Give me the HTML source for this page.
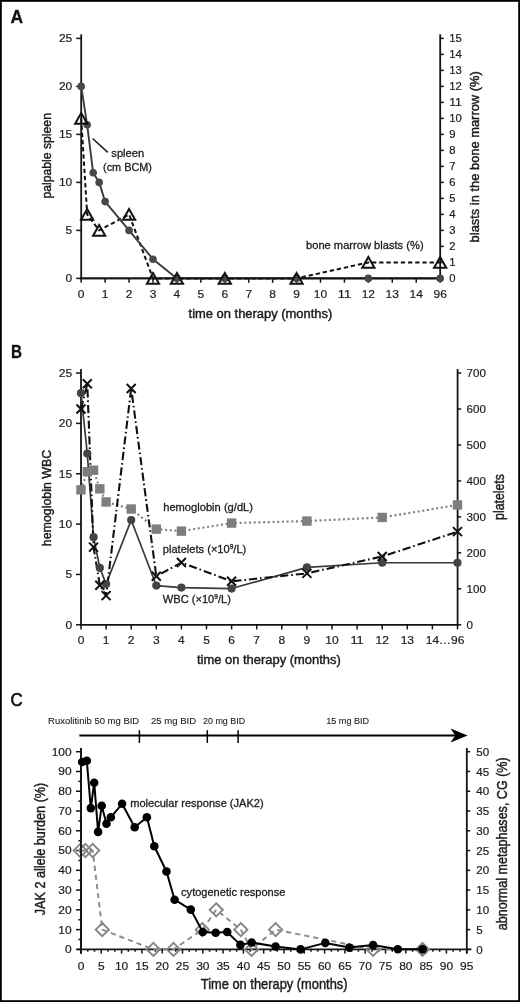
<!DOCTYPE html><html><head><meta charset="utf-8"><style>html,body{margin:0;padding:0;background:#fff;}svg{display:block;filter:grayscale(1);}text{font-family:"Liberation Sans", sans-serif;stroke:#1c1c1c;stroke-width:0.3px;}</style></head><body>
<svg width="520" height="1002" viewBox="0 0 520 1002">
<rect x="0" y="0" width="520" height="1002" fill="#fff"/>
<rect x="0.9" y="0.9" width="518.2" height="1000.2" fill="none" stroke="#000" stroke-width="1.8"/>
<text x="10.6" y="23.1" font-size="17.5" text-anchor="start" font-weight="bold" fill="#111">A</text>
<line x1="81.2" y1="34.3" x2="81.2" y2="279.3" stroke="#141414" stroke-width="1.8"/>
<line x1="440.2" y1="34.3" x2="440.2" y2="279.3" stroke="#141414" stroke-width="1.8"/>
<line x1="80.3" y1="278.4" x2="441.1" y2="278.4" stroke="#141414" stroke-width="1.8"/>
<line x1="76.2" y1="278.4" x2="81.2" y2="278.4" stroke="#141414" stroke-width="1.5"/>
<text x="72.3" y="282.2" font-size="11.7" text-anchor="end" font-weight="normal" fill="#1c1c1c" textLength="6.67" lengthAdjust="spacingAndGlyphs" style="stroke-width:0.2px">0</text>
<line x1="76.2" y1="230.4" x2="81.2" y2="230.4" stroke="#141414" stroke-width="1.5"/>
<text x="72.3" y="234.2" font-size="11.7" text-anchor="end" font-weight="normal" fill="#1c1c1c" textLength="6.67" lengthAdjust="spacingAndGlyphs" style="stroke-width:0.2px">5</text>
<line x1="76.2" y1="182.4" x2="81.2" y2="182.4" stroke="#141414" stroke-width="1.5"/>
<text x="72.3" y="186.2" font-size="11.7" text-anchor="end" font-weight="normal" fill="#1c1c1c" textLength="13.35" lengthAdjust="spacingAndGlyphs" style="stroke-width:0.2px">10</text>
<line x1="76.2" y1="134.4" x2="81.2" y2="134.4" stroke="#141414" stroke-width="1.5"/>
<text x="72.3" y="138.2" font-size="11.7" text-anchor="end" font-weight="normal" fill="#1c1c1c" textLength="13.35" lengthAdjust="spacingAndGlyphs" style="stroke-width:0.2px">15</text>
<line x1="76.2" y1="86.4" x2="81.2" y2="86.4" stroke="#141414" stroke-width="1.5"/>
<text x="72.3" y="90.2" font-size="11.7" text-anchor="end" font-weight="normal" fill="#1c1c1c" textLength="13.35" lengthAdjust="spacingAndGlyphs" style="stroke-width:0.2px">20</text>
<line x1="76.2" y1="38.4" x2="81.2" y2="38.4" stroke="#141414" stroke-width="1.5"/>
<text x="72.3" y="42.2" font-size="11.7" text-anchor="end" font-weight="normal" fill="#1c1c1c" textLength="13.35" lengthAdjust="spacingAndGlyphs" style="stroke-width:0.2px">25</text>
<line x1="440.2" y1="278.4" x2="443.8" y2="278.4" stroke="#141414" stroke-width="1.5"/>
<text x="449.2" y="282.4" font-size="11.02" text-anchor="start" font-weight="normal" fill="#1c1c1c" textLength="6.28" lengthAdjust="spacingAndGlyphs" style="stroke-width:0.2px">0</text>
<line x1="440.2" y1="262.4" x2="443.8" y2="262.4" stroke="#141414" stroke-width="1.5"/>
<text x="449.2" y="266.4" font-size="11.02" text-anchor="start" font-weight="normal" fill="#1c1c1c" textLength="6.28" lengthAdjust="spacingAndGlyphs" style="stroke-width:0.2px">1</text>
<line x1="440.2" y1="246.4" x2="443.8" y2="246.4" stroke="#141414" stroke-width="1.5"/>
<text x="449.2" y="250.4" font-size="11.02" text-anchor="start" font-weight="normal" fill="#1c1c1c" textLength="6.28" lengthAdjust="spacingAndGlyphs" style="stroke-width:0.2px">2</text>
<line x1="440.2" y1="230.4" x2="443.8" y2="230.4" stroke="#141414" stroke-width="1.5"/>
<text x="449.2" y="234.4" font-size="11.02" text-anchor="start" font-weight="normal" fill="#1c1c1c" textLength="6.28" lengthAdjust="spacingAndGlyphs" style="stroke-width:0.2px">3</text>
<line x1="440.2" y1="214.4" x2="443.8" y2="214.4" stroke="#141414" stroke-width="1.5"/>
<text x="449.2" y="218.4" font-size="11.02" text-anchor="start" font-weight="normal" fill="#1c1c1c" textLength="6.28" lengthAdjust="spacingAndGlyphs" style="stroke-width:0.2px">4</text>
<line x1="440.2" y1="198.4" x2="443.8" y2="198.4" stroke="#141414" stroke-width="1.5"/>
<text x="449.2" y="202.4" font-size="11.02" text-anchor="start" font-weight="normal" fill="#1c1c1c" textLength="6.28" lengthAdjust="spacingAndGlyphs" style="stroke-width:0.2px">5</text>
<line x1="440.2" y1="182.4" x2="443.8" y2="182.4" stroke="#141414" stroke-width="1.5"/>
<text x="449.2" y="186.4" font-size="11.02" text-anchor="start" font-weight="normal" fill="#1c1c1c" textLength="6.28" lengthAdjust="spacingAndGlyphs" style="stroke-width:0.2px">6</text>
<line x1="440.2" y1="166.4" x2="443.8" y2="166.4" stroke="#141414" stroke-width="1.5"/>
<text x="449.2" y="170.4" font-size="11.02" text-anchor="start" font-weight="normal" fill="#1c1c1c" textLength="6.28" lengthAdjust="spacingAndGlyphs" style="stroke-width:0.2px">7</text>
<line x1="440.2" y1="150.4" x2="443.8" y2="150.4" stroke="#141414" stroke-width="1.5"/>
<text x="449.2" y="154.4" font-size="11.02" text-anchor="start" font-weight="normal" fill="#1c1c1c" textLength="6.28" lengthAdjust="spacingAndGlyphs" style="stroke-width:0.2px">8</text>
<line x1="440.2" y1="134.4" x2="443.8" y2="134.4" stroke="#141414" stroke-width="1.5"/>
<text x="449.2" y="138.4" font-size="11.02" text-anchor="start" font-weight="normal" fill="#1c1c1c" textLength="6.28" lengthAdjust="spacingAndGlyphs" style="stroke-width:0.2px">9</text>
<line x1="440.2" y1="118.4" x2="443.8" y2="118.4" stroke="#141414" stroke-width="1.5"/>
<text x="449.2" y="122.4" font-size="11.02" text-anchor="start" font-weight="normal" fill="#1c1c1c" textLength="12.57" lengthAdjust="spacingAndGlyphs" style="stroke-width:0.2px">10</text>
<line x1="440.2" y1="102.4" x2="443.8" y2="102.4" stroke="#141414" stroke-width="1.5"/>
<text x="449.2" y="106.4" font-size="11.02" text-anchor="start" font-weight="normal" fill="#1c1c1c" textLength="12.57" lengthAdjust="spacingAndGlyphs" style="stroke-width:0.2px">11</text>
<line x1="440.2" y1="86.4" x2="443.8" y2="86.4" stroke="#141414" stroke-width="1.5"/>
<text x="449.2" y="90.4" font-size="11.02" text-anchor="start" font-weight="normal" fill="#1c1c1c" textLength="12.57" lengthAdjust="spacingAndGlyphs" style="stroke-width:0.2px">12</text>
<line x1="440.2" y1="70.4" x2="443.8" y2="70.4" stroke="#141414" stroke-width="1.5"/>
<text x="449.2" y="74.4" font-size="11.02" text-anchor="start" font-weight="normal" fill="#1c1c1c" textLength="12.57" lengthAdjust="spacingAndGlyphs" style="stroke-width:0.2px">13</text>
<line x1="440.2" y1="54.4" x2="443.8" y2="54.4" stroke="#141414" stroke-width="1.5"/>
<text x="449.2" y="58.4" font-size="11.02" text-anchor="start" font-weight="normal" fill="#1c1c1c" textLength="12.57" lengthAdjust="spacingAndGlyphs" style="stroke-width:0.2px">14</text>
<line x1="440.2" y1="38.4" x2="443.8" y2="38.4" stroke="#141414" stroke-width="1.5"/>
<text x="449.2" y="42.4" font-size="11.02" text-anchor="start" font-weight="normal" fill="#1c1c1c" textLength="12.57" lengthAdjust="spacingAndGlyphs" style="stroke-width:0.2px">15</text>
<line x1="81.2" y1="278.4" x2="81.2" y2="282.8" stroke="#141414" stroke-width="1.5"/>
<text x="81.2" y="297.6" font-size="11.7" text-anchor="middle" font-weight="normal" fill="#1c1c1c" textLength="6.67" lengthAdjust="spacingAndGlyphs" style="stroke-width:0.2px">0</text>
<line x1="105.13" y1="278.4" x2="105.13" y2="282.8" stroke="#141414" stroke-width="1.5"/>
<text x="105.13" y="297.6" font-size="11.7" text-anchor="middle" font-weight="normal" fill="#1c1c1c" textLength="6.67" lengthAdjust="spacingAndGlyphs" style="stroke-width:0.2px">1</text>
<line x1="129.06" y1="278.4" x2="129.06" y2="282.8" stroke="#141414" stroke-width="1.5"/>
<text x="129.06" y="297.6" font-size="11.7" text-anchor="middle" font-weight="normal" fill="#1c1c1c" textLength="6.67" lengthAdjust="spacingAndGlyphs" style="stroke-width:0.2px">2</text>
<line x1="152.99" y1="278.4" x2="152.99" y2="282.8" stroke="#141414" stroke-width="1.5"/>
<text x="152.99" y="297.6" font-size="11.7" text-anchor="middle" font-weight="normal" fill="#1c1c1c" textLength="6.67" lengthAdjust="spacingAndGlyphs" style="stroke-width:0.2px">3</text>
<line x1="176.92" y1="278.4" x2="176.92" y2="282.8" stroke="#141414" stroke-width="1.5"/>
<text x="176.92" y="297.6" font-size="11.7" text-anchor="middle" font-weight="normal" fill="#1c1c1c" textLength="6.67" lengthAdjust="spacingAndGlyphs" style="stroke-width:0.2px">4</text>
<line x1="200.85" y1="278.4" x2="200.85" y2="282.8" stroke="#141414" stroke-width="1.5"/>
<text x="200.85" y="297.6" font-size="11.7" text-anchor="middle" font-weight="normal" fill="#1c1c1c" textLength="6.67" lengthAdjust="spacingAndGlyphs" style="stroke-width:0.2px">5</text>
<line x1="224.78" y1="278.4" x2="224.78" y2="282.8" stroke="#141414" stroke-width="1.5"/>
<text x="224.78" y="297.6" font-size="11.7" text-anchor="middle" font-weight="normal" fill="#1c1c1c" textLength="6.67" lengthAdjust="spacingAndGlyphs" style="stroke-width:0.2px">6</text>
<line x1="248.71" y1="278.4" x2="248.71" y2="282.8" stroke="#141414" stroke-width="1.5"/>
<text x="248.71" y="297.6" font-size="11.7" text-anchor="middle" font-weight="normal" fill="#1c1c1c" textLength="6.67" lengthAdjust="spacingAndGlyphs" style="stroke-width:0.2px">7</text>
<line x1="272.64" y1="278.4" x2="272.64" y2="282.8" stroke="#141414" stroke-width="1.5"/>
<text x="272.64" y="297.6" font-size="11.7" text-anchor="middle" font-weight="normal" fill="#1c1c1c" textLength="6.67" lengthAdjust="spacingAndGlyphs" style="stroke-width:0.2px">8</text>
<line x1="296.57" y1="278.4" x2="296.57" y2="282.8" stroke="#141414" stroke-width="1.5"/>
<text x="296.57" y="297.6" font-size="11.7" text-anchor="middle" font-weight="normal" fill="#1c1c1c" textLength="6.67" lengthAdjust="spacingAndGlyphs" style="stroke-width:0.2px">9</text>
<line x1="320.5" y1="278.4" x2="320.5" y2="282.8" stroke="#141414" stroke-width="1.5"/>
<text x="320.5" y="297.6" font-size="11.7" text-anchor="middle" font-weight="normal" fill="#1c1c1c" textLength="13.35" lengthAdjust="spacingAndGlyphs" style="stroke-width:0.2px">10</text>
<line x1="344.43" y1="278.4" x2="344.43" y2="282.8" stroke="#141414" stroke-width="1.5"/>
<text x="344.43" y="297.6" font-size="11.7" text-anchor="middle" font-weight="normal" fill="#1c1c1c" textLength="13.35" lengthAdjust="spacingAndGlyphs" style="stroke-width:0.2px">11</text>
<line x1="368.36" y1="278.4" x2="368.36" y2="282.8" stroke="#141414" stroke-width="1.5"/>
<text x="368.36" y="297.6" font-size="11.7" text-anchor="middle" font-weight="normal" fill="#1c1c1c" textLength="13.35" lengthAdjust="spacingAndGlyphs" style="stroke-width:0.2px">12</text>
<line x1="392.29" y1="278.4" x2="392.29" y2="282.8" stroke="#141414" stroke-width="1.5"/>
<text x="392.29" y="297.6" font-size="11.7" text-anchor="middle" font-weight="normal" fill="#1c1c1c" textLength="13.35" lengthAdjust="spacingAndGlyphs" style="stroke-width:0.2px">13</text>
<line x1="416.22" y1="278.4" x2="416.22" y2="282.8" stroke="#141414" stroke-width="1.5"/>
<text x="416.22" y="297.6" font-size="11.7" text-anchor="middle" font-weight="normal" fill="#1c1c1c" textLength="13.35" lengthAdjust="spacingAndGlyphs" style="stroke-width:0.2px">14</text>
<line x1="440.15" y1="278.4" x2="440.15" y2="282.8" stroke="#141414" stroke-width="1.5"/>
<text x="440.15" y="297.6" font-size="11.7" text-anchor="middle" font-weight="normal" fill="#1c1c1c" textLength="13.35" lengthAdjust="spacingAndGlyphs" style="stroke-width:0.2px">96</text>
<text transform="translate(50.9,155.8) rotate(-90)" x="0" y="0" font-size="13.6" text-anchor="middle" fill="#1c1c1c" style="stroke-width:0.45px" textLength="85.5" lengthAdjust="spacingAndGlyphs">palpable spleen</text>
<text transform="translate(479.1,156.8) rotate(-90)" x="0" y="0" font-size="13.3" text-anchor="middle" fill="#1c1c1c" style="stroke-width:0.45px" textLength="171.2" lengthAdjust="spacingAndGlyphs">blasts in the bone marrow (%)</text>
<text x="188.6" y="317.6" font-size="13.5" text-anchor="start" font-weight="normal" fill="#1c1c1c" textLength="143.7" lengthAdjust="spacingAndGlyphs" style="stroke-width:0.45px">time on therapy (months)</text>
<polyline points="81.2,118.4 87.18,214.4 99.15,230.4 129.06,214.4 152.99,278.4 176.92,278.4 224.78,278.4 296.57,278.4 368.36,262.4 440.15,262.4" fill="none" stroke="#111" stroke-width="2" stroke-linejoin="round" stroke-dasharray="4.3 2.9"/>
<polyline points="81.2,86.4 87.18,124.8 93.17,172.8 99.15,182.4 105.13,201.6 129.06,230.4 152.99,259.2 176.92,278.4 224.78,278.4 296.57,278.4 368.36,278.4 440.15,278.4" fill="none" stroke="#3c3c3c" stroke-width="1.9" stroke-linejoin="round"/>
<line x1="80.3" y1="278.4" x2="441.1" y2="278.4" stroke="#141414" stroke-width="1.8"/>
<circle cx="81.2" cy="86.4" r="3.8" fill="#484848"/>
<circle cx="87.18" cy="124.8" r="3.8" fill="#484848"/>
<circle cx="93.17" cy="172.8" r="3.8" fill="#484848"/>
<circle cx="99.15" cy="182.4" r="3.8" fill="#484848"/>
<circle cx="105.13" cy="201.6" r="3.8" fill="#484848"/>
<circle cx="129.06" cy="230.4" r="3.8" fill="#484848"/>
<circle cx="152.99" cy="259.2" r="3.8" fill="#484848"/>
<circle cx="176.92" cy="278.4" r="3.8" fill="#484848"/>
<circle cx="224.78" cy="278.4" r="3.8" fill="#484848"/>
<circle cx="296.57" cy="278.4" r="3.8" fill="#484848"/>
<circle cx="368.36" cy="278.4" r="3.8" fill="#484848"/>
<circle cx="440.15" cy="278.4" r="3.8" fill="#484848"/>
<polygon points="81.2,113 87.3,123.8 75.1,123.8" fill="none" stroke="#111" stroke-width="2" stroke-linejoin="miter"/>
<polygon points="87.18,209 93.28,219.8 81.08,219.8" fill="none" stroke="#111" stroke-width="2" stroke-linejoin="miter"/>
<polygon points="99.15,225 105.25,235.8 93.05,235.8" fill="none" stroke="#111" stroke-width="2" stroke-linejoin="miter"/>
<polygon points="129.06,209 135.16,219.8 122.96,219.8" fill="none" stroke="#111" stroke-width="2" stroke-linejoin="miter"/>
<polygon points="152.99,273 159.09,283.8 146.89,283.8" fill="none" stroke="#111" stroke-width="2" stroke-linejoin="miter"/>
<polygon points="176.92,273 183.02,283.8 170.82,283.8" fill="none" stroke="#111" stroke-width="2" stroke-linejoin="miter"/>
<polygon points="224.78,273 230.88,283.8 218.68,283.8" fill="none" stroke="#111" stroke-width="2" stroke-linejoin="miter"/>
<polygon points="296.57,273 302.67,283.8 290.47,283.8" fill="none" stroke="#111" stroke-width="2" stroke-linejoin="miter"/>
<polygon points="368.36,257 374.46,267.8 362.26,267.8" fill="none" stroke="#111" stroke-width="2" stroke-linejoin="miter"/>
<polygon points="440.15,257 446.25,267.8 434.05,267.8" fill="none" stroke="#111" stroke-width="2" stroke-linejoin="miter"/>
<line x1="92.6" y1="138.5" x2="107.8" y2="152.4" stroke="#222" stroke-width="1.6"/>
<text x="111.3" y="156.5" font-size="11.1" text-anchor="start" font-weight="normal" fill="#1c1c1c" textLength="33" lengthAdjust="spacingAndGlyphs">spleen</text>
<text x="103" y="170.8" font-size="11.1" text-anchor="start" font-weight="normal" fill="#1c1c1c" textLength="49" lengthAdjust="spacingAndGlyphs">(cm BCM)</text>
<text x="306" y="249.4" font-size="11.1" text-anchor="start" font-weight="normal" fill="#1c1c1c" textLength="117.6" lengthAdjust="spacingAndGlyphs">bone marrow blasts (%)</text>
<text x="11" y="358" font-size="17.5" text-anchor="start" font-weight="bold" fill="#111" textLength="11" lengthAdjust="spacingAndGlyphs">B</text>
<line x1="81" y1="369" x2="81" y2="625.7" stroke="#141414" stroke-width="1.8"/>
<line x1="457.6" y1="369" x2="457.6" y2="625.7" stroke="#141414" stroke-width="1.8"/>
<line x1="80.1" y1="624.8" x2="458.5" y2="624.8" stroke="#141414" stroke-width="1.8"/>
<line x1="76" y1="624.8" x2="81" y2="624.8" stroke="#141414" stroke-width="1.5"/>
<text x="72.2" y="628.6" font-size="11.7" text-anchor="end" font-weight="normal" fill="#1c1c1c" textLength="6.67" lengthAdjust="spacingAndGlyphs" style="stroke-width:0.2px">0</text>
<line x1="76" y1="574.45" x2="81" y2="574.45" stroke="#141414" stroke-width="1.5"/>
<text x="72.2" y="578.25" font-size="11.7" text-anchor="end" font-weight="normal" fill="#1c1c1c" textLength="6.67" lengthAdjust="spacingAndGlyphs" style="stroke-width:0.2px">5</text>
<line x1="76" y1="524.1" x2="81" y2="524.1" stroke="#141414" stroke-width="1.5"/>
<text x="72.2" y="527.9" font-size="11.7" text-anchor="end" font-weight="normal" fill="#1c1c1c" textLength="13.35" lengthAdjust="spacingAndGlyphs" style="stroke-width:0.2px">10</text>
<line x1="76" y1="473.75" x2="81" y2="473.75" stroke="#141414" stroke-width="1.5"/>
<text x="72.2" y="477.55" font-size="11.7" text-anchor="end" font-weight="normal" fill="#1c1c1c" textLength="13.35" lengthAdjust="spacingAndGlyphs" style="stroke-width:0.2px">15</text>
<line x1="76" y1="423.4" x2="81" y2="423.4" stroke="#141414" stroke-width="1.5"/>
<text x="72.2" y="427.2" font-size="11.7" text-anchor="end" font-weight="normal" fill="#1c1c1c" textLength="13.35" lengthAdjust="spacingAndGlyphs" style="stroke-width:0.2px">20</text>
<line x1="76" y1="373.05" x2="81" y2="373.05" stroke="#141414" stroke-width="1.5"/>
<text x="72.2" y="376.85" font-size="11.7" text-anchor="end" font-weight="normal" fill="#1c1c1c" textLength="13.35" lengthAdjust="spacingAndGlyphs" style="stroke-width:0.2px">25</text>
<line x1="457.6" y1="624.8" x2="461.2" y2="624.8" stroke="#141414" stroke-width="1.5"/>
<text x="466.6" y="628.9" font-size="11.31" text-anchor="start" font-weight="normal" fill="#1c1c1c" textLength="6.45" lengthAdjust="spacingAndGlyphs" style="stroke-width:0.2px">0</text>
<line x1="457.6" y1="588.83" x2="461.2" y2="588.83" stroke="#141414" stroke-width="1.5"/>
<text x="466.6" y="592.93" font-size="11.31" text-anchor="start" font-weight="normal" fill="#1c1c1c" textLength="19.35" lengthAdjust="spacingAndGlyphs" style="stroke-width:0.2px">100</text>
<line x1="457.6" y1="552.86" x2="461.2" y2="552.86" stroke="#141414" stroke-width="1.5"/>
<text x="466.6" y="556.96" font-size="11.31" text-anchor="start" font-weight="normal" fill="#1c1c1c" textLength="19.35" lengthAdjust="spacingAndGlyphs" style="stroke-width:0.2px">200</text>
<line x1="457.6" y1="516.89" x2="461.2" y2="516.89" stroke="#141414" stroke-width="1.5"/>
<text x="466.6" y="520.99" font-size="11.31" text-anchor="start" font-weight="normal" fill="#1c1c1c" textLength="19.35" lengthAdjust="spacingAndGlyphs" style="stroke-width:0.2px">300</text>
<line x1="457.6" y1="480.92" x2="461.2" y2="480.92" stroke="#141414" stroke-width="1.5"/>
<text x="466.6" y="485.02" font-size="11.31" text-anchor="start" font-weight="normal" fill="#1c1c1c" textLength="19.35" lengthAdjust="spacingAndGlyphs" style="stroke-width:0.2px">400</text>
<line x1="457.6" y1="444.95" x2="461.2" y2="444.95" stroke="#141414" stroke-width="1.5"/>
<text x="466.6" y="449.05" font-size="11.31" text-anchor="start" font-weight="normal" fill="#1c1c1c" textLength="19.35" lengthAdjust="spacingAndGlyphs" style="stroke-width:0.2px">500</text>
<line x1="457.6" y1="408.98" x2="461.2" y2="408.98" stroke="#141414" stroke-width="1.5"/>
<text x="466.6" y="413.08" font-size="11.31" text-anchor="start" font-weight="normal" fill="#1c1c1c" textLength="19.35" lengthAdjust="spacingAndGlyphs" style="stroke-width:0.2px">600</text>
<line x1="457.6" y1="373.01" x2="461.2" y2="373.01" stroke="#141414" stroke-width="1.5"/>
<text x="466.6" y="377.11" font-size="11.31" text-anchor="start" font-weight="normal" fill="#1c1c1c" textLength="19.35" lengthAdjust="spacingAndGlyphs" style="stroke-width:0.2px">700</text>
<line x1="81" y1="624.8" x2="81" y2="629.4" stroke="#141414" stroke-width="1.5"/>
<text x="81" y="644" font-size="11.7" text-anchor="middle" font-weight="normal" fill="#1c1c1c" textLength="6.67" lengthAdjust="spacingAndGlyphs" style="stroke-width:0.2px">0</text>
<line x1="106.1" y1="624.8" x2="106.1" y2="629.4" stroke="#141414" stroke-width="1.5"/>
<text x="106.1" y="644" font-size="11.7" text-anchor="middle" font-weight="normal" fill="#1c1c1c" textLength="6.67" lengthAdjust="spacingAndGlyphs" style="stroke-width:0.2px">1</text>
<line x1="131.2" y1="624.8" x2="131.2" y2="629.4" stroke="#141414" stroke-width="1.5"/>
<text x="131.2" y="644" font-size="11.7" text-anchor="middle" font-weight="normal" fill="#1c1c1c" textLength="6.67" lengthAdjust="spacingAndGlyphs" style="stroke-width:0.2px">2</text>
<line x1="156.3" y1="624.8" x2="156.3" y2="629.4" stroke="#141414" stroke-width="1.5"/>
<text x="156.3" y="644" font-size="11.7" text-anchor="middle" font-weight="normal" fill="#1c1c1c" textLength="6.67" lengthAdjust="spacingAndGlyphs" style="stroke-width:0.2px">3</text>
<line x1="181.4" y1="624.8" x2="181.4" y2="629.4" stroke="#141414" stroke-width="1.5"/>
<text x="181.4" y="644" font-size="11.7" text-anchor="middle" font-weight="normal" fill="#1c1c1c" textLength="6.67" lengthAdjust="spacingAndGlyphs" style="stroke-width:0.2px">4</text>
<line x1="206.5" y1="624.8" x2="206.5" y2="629.4" stroke="#141414" stroke-width="1.5"/>
<text x="206.5" y="644" font-size="11.7" text-anchor="middle" font-weight="normal" fill="#1c1c1c" textLength="6.67" lengthAdjust="spacingAndGlyphs" style="stroke-width:0.2px">5</text>
<line x1="231.6" y1="624.8" x2="231.6" y2="629.4" stroke="#141414" stroke-width="1.5"/>
<text x="231.6" y="644" font-size="11.7" text-anchor="middle" font-weight="normal" fill="#1c1c1c" textLength="6.67" lengthAdjust="spacingAndGlyphs" style="stroke-width:0.2px">6</text>
<line x1="256.7" y1="624.8" x2="256.7" y2="629.4" stroke="#141414" stroke-width="1.5"/>
<text x="256.7" y="644" font-size="11.7" text-anchor="middle" font-weight="normal" fill="#1c1c1c" textLength="6.67" lengthAdjust="spacingAndGlyphs" style="stroke-width:0.2px">7</text>
<line x1="281.8" y1="624.8" x2="281.8" y2="629.4" stroke="#141414" stroke-width="1.5"/>
<text x="281.8" y="644" font-size="11.7" text-anchor="middle" font-weight="normal" fill="#1c1c1c" textLength="6.67" lengthAdjust="spacingAndGlyphs" style="stroke-width:0.2px">8</text>
<line x1="306.9" y1="624.8" x2="306.9" y2="629.4" stroke="#141414" stroke-width="1.5"/>
<text x="306.9" y="644" font-size="11.7" text-anchor="middle" font-weight="normal" fill="#1c1c1c" textLength="6.67" lengthAdjust="spacingAndGlyphs" style="stroke-width:0.2px">9</text>
<line x1="332" y1="624.8" x2="332" y2="629.4" stroke="#141414" stroke-width="1.5"/>
<text x="332" y="644" font-size="11.7" text-anchor="middle" font-weight="normal" fill="#1c1c1c" textLength="13.35" lengthAdjust="spacingAndGlyphs" style="stroke-width:0.2px">10</text>
<line x1="357.1" y1="624.8" x2="357.1" y2="629.4" stroke="#141414" stroke-width="1.5"/>
<text x="357.1" y="644" font-size="11.7" text-anchor="middle" font-weight="normal" fill="#1c1c1c" textLength="13.35" lengthAdjust="spacingAndGlyphs" style="stroke-width:0.2px">11</text>
<line x1="382.2" y1="624.8" x2="382.2" y2="629.4" stroke="#141414" stroke-width="1.5"/>
<text x="382.2" y="644" font-size="11.7" text-anchor="middle" font-weight="normal" fill="#1c1c1c" textLength="13.35" lengthAdjust="spacingAndGlyphs" style="stroke-width:0.2px">12</text>
<line x1="407.3" y1="624.8" x2="407.3" y2="629.4" stroke="#141414" stroke-width="1.5"/>
<text x="407.3" y="644" font-size="11.7" text-anchor="middle" font-weight="normal" fill="#1c1c1c" textLength="13.35" lengthAdjust="spacingAndGlyphs" style="stroke-width:0.2px">13</text>
<line x1="432.4" y1="624.8" x2="432.4" y2="629.4" stroke="#141414" stroke-width="1.5"/>
<line x1="457.5" y1="624.8" x2="457.5" y2="629.4" stroke="#141414" stroke-width="1.5"/>
<text x="425.8" y="644" font-size="11.7" text-anchor="start" font-weight="normal" fill="#1c1c1c" textLength="38.6" lengthAdjust="spacingAndGlyphs" style="stroke-width:0.2px">14…96</text>
<text transform="translate(51.3,498) rotate(-90)" x="0" y="0" font-size="13.3" text-anchor="middle" fill="#1c1c1c" style="stroke-width:0.45px" textLength="96.4" lengthAdjust="spacingAndGlyphs">hemoglobin WBC</text>
<text transform="translate(504,497) rotate(-90)" x="0" y="0" font-size="14.2" text-anchor="middle" fill="#1c1c1c" style="stroke-width:0.45px" textLength="45.8" lengthAdjust="spacingAndGlyphs">platelets</text>
<text x="197" y="664.1" font-size="13.5" text-anchor="start" font-weight="normal" fill="#1c1c1c" textLength="143.8" lengthAdjust="spacingAndGlyphs" style="stroke-width:0.45px">time on therapy (months)</text>
<polyline points="81,489.86 87.28,471.74 93.55,470.23 99.83,488.85 106.1,501.95 131.2,508.99 156.3,529.13 181.4,531.15 231.6,523.09 306.9,521.08 382.2,517.45 457.5,504.97" fill="none" stroke="#808080" stroke-width="2.2" stroke-linejoin="round" stroke-dasharray="2 2.7"/>
<polyline points="81,393.19 87.28,453.61 93.55,537.19 99.83,567.9 106.1,584.02 131.2,520.07 156.3,585.53 181.4,587.54 231.6,588.55 306.9,567.4 382.2,562.77 457.5,562.77" fill="none" stroke="#3a3a3a" stroke-width="1.7" stroke-linejoin="round"/>
<polyline points="81,408.98 87.28,383.8 93.55,547.1 99.83,585.23 106.1,595.66 131.2,388.48 156.3,576.24 181.4,562.57 231.6,581.28 306.9,573.36 382.2,556.46 457.5,531.64" fill="none" stroke="#111" stroke-width="2.1" stroke-linejoin="round" stroke-dasharray="8.2 2.9 1.6 3"/>
<rect x="76.3" y="485.16" width="9.4" height="9.4" fill="#7e7e7e"/>
<rect x="82.58" y="467.04" width="9.4" height="9.4" fill="#7e7e7e"/>
<rect x="88.85" y="465.53" width="9.4" height="9.4" fill="#7e7e7e"/>
<rect x="95.12" y="484.15" width="9.4" height="9.4" fill="#7e7e7e"/>
<rect x="101.4" y="497.25" width="9.4" height="9.4" fill="#7e7e7e"/>
<rect x="126.5" y="504.29" width="9.4" height="9.4" fill="#7e7e7e"/>
<rect x="151.6" y="524.43" width="9.4" height="9.4" fill="#7e7e7e"/>
<rect x="176.7" y="526.45" width="9.4" height="9.4" fill="#7e7e7e"/>
<rect x="226.9" y="518.39" width="9.4" height="9.4" fill="#7e7e7e"/>
<rect x="302.2" y="516.38" width="9.4" height="9.4" fill="#7e7e7e"/>
<rect x="377.5" y="512.75" width="9.4" height="9.4" fill="#7e7e7e"/>
<rect x="452.8" y="500.27" width="9.4" height="9.4" fill="#7e7e7e"/>
<circle cx="81" cy="393.19" r="4.1" fill="#444"/>
<circle cx="87.28" cy="453.61" r="4.1" fill="#444"/>
<circle cx="93.55" cy="537.19" r="4.1" fill="#444"/>
<circle cx="99.83" cy="567.9" r="4.1" fill="#444"/>
<circle cx="106.1" cy="584.02" r="4.1" fill="#444"/>
<circle cx="131.2" cy="520.07" r="4.1" fill="#444"/>
<circle cx="156.3" cy="585.53" r="4.1" fill="#444"/>
<circle cx="181.4" cy="587.54" r="4.1" fill="#444"/>
<circle cx="231.6" cy="588.55" r="4.1" fill="#444"/>
<circle cx="306.9" cy="567.4" r="4.1" fill="#444"/>
<circle cx="382.2" cy="562.77" r="4.1" fill="#444"/>
<circle cx="457.5" cy="562.77" r="4.1" fill="#444"/>
<path d="M76.5 404.48L85.5 413.48M76.5 413.48L85.5 404.48" stroke="#111" stroke-width="2" fill="none"/>
<path d="M82.78 379.3L91.78 388.3M82.78 388.3L91.78 379.3" stroke="#111" stroke-width="2" fill="none"/>
<path d="M89.05 542.6L98.05 551.6M89.05 551.6L98.05 542.6" stroke="#111" stroke-width="2" fill="none"/>
<path d="M95.33 580.73L104.33 589.73M95.33 589.73L104.33 580.73" stroke="#111" stroke-width="2" fill="none"/>
<path d="M101.6 591.16L110.6 600.16M101.6 600.16L110.6 591.16" stroke="#111" stroke-width="2" fill="none"/>
<path d="M126.7 383.98L135.7 392.98M126.7 392.98L135.7 383.98" stroke="#111" stroke-width="2" fill="none"/>
<path d="M151.8 571.74L160.8 580.74M151.8 580.74L160.8 571.74" stroke="#111" stroke-width="2" fill="none"/>
<path d="M176.9 558.07L185.9 567.07M176.9 567.07L185.9 558.07" stroke="#111" stroke-width="2" fill="none"/>
<path d="M227.1 576.78L236.1 585.78M227.1 585.78L236.1 576.78" stroke="#111" stroke-width="2" fill="none"/>
<path d="M302.4 568.86L311.4 577.86M302.4 577.86L311.4 568.86" stroke="#111" stroke-width="2" fill="none"/>
<path d="M377.7 551.96L386.7 560.96M377.7 560.96L386.7 551.96" stroke="#111" stroke-width="2" fill="none"/>
<path d="M453 527.14L462 536.14M453 536.14L462 527.14" stroke="#111" stroke-width="2" fill="none"/>
<text x="163.2" y="510.8" font-size="11.1" text-anchor="start" font-weight="normal" fill="#1c1c1c" textLength="89.8" lengthAdjust="spacingAndGlyphs">hemoglobin (g/dL)</text>
<text x="162.8" y="553" font-size="11.1" fill="#1c1c1c">platelets (×10<tspan font-size="6.5" dy="-3.8">9</tspan><tspan dy="3.8">/L)</tspan></text>
<text x="162.8" y="603" font-size="11.1" fill="#1c1c1c">WBC (×10<tspan font-size="6.5" dy="-3.8">9</tspan><tspan dy="3.8">/L)</tspan></text>
<text x="10.5" y="705.5" font-size="18.4" text-anchor="start" font-weight="normal" fill="#111" textLength="12.2" lengthAdjust="spacingAndGlyphs" style="stroke-width:0.6px;stroke:#111">C</text>
<line x1="79.4" y1="735.5" x2="456" y2="735.5" stroke="#000" stroke-width="2"/>
<path d="M467.6 735.5 L450.6 728.6 L455.2 735.5 L450.6 742.4 Z" fill="#000"/>
<line x1="139.4" y1="730.2" x2="139.4" y2="742.9" stroke="#000" stroke-width="1.5"/>
<line x1="207.3" y1="730.2" x2="207.3" y2="742.9" stroke="#000" stroke-width="1.5"/>
<line x1="238.1" y1="730.2" x2="238.1" y2="742.9" stroke="#000" stroke-width="1.5"/>
<text x="48.1" y="723.7" font-size="9.5" text-anchor="start" font-weight="normal" fill="#1c1c1c" textLength="91.1" lengthAdjust="spacingAndGlyphs" style="stroke-width:0.1px">Ruxolitinib 50 mg BID</text>
<text x="151" y="723.8" font-size="9.5" text-anchor="start" font-weight="normal" fill="#1c1c1c" textLength="45.1" lengthAdjust="spacingAndGlyphs" style="stroke-width:0.1px">25 mg BID</text>
<text x="203" y="723.8" font-size="9.5" text-anchor="start" font-weight="normal" fill="#1c1c1c" textLength="42.1" lengthAdjust="spacingAndGlyphs" style="stroke-width:0.1px">20 mg BID</text>
<text x="326.2" y="723.5" font-size="9.5" text-anchor="start" font-weight="normal" fill="#1c1c1c" textLength="43" lengthAdjust="spacingAndGlyphs" style="stroke-width:0.1px">15 mg BID</text>
<line x1="81" y1="748" x2="81" y2="953.6" stroke="#141414" stroke-width="1.8"/>
<line x1="466.8" y1="748" x2="466.8" y2="953.6" stroke="#141414" stroke-width="1.8"/>
<line x1="77.3" y1="949.4" x2="471.4" y2="949.4" stroke="#141414" stroke-width="1.8"/>
<line x1="76" y1="949.4" x2="81" y2="949.4" stroke="#141414" stroke-width="1.5"/>
<text x="71.7" y="953.3" font-size="11.7" text-anchor="end" font-weight="normal" fill="#1c1c1c" textLength="6.67" lengthAdjust="spacingAndGlyphs" style="stroke-width:0.2px">0</text>
<line x1="78.4" y1="939.51" x2="81" y2="939.51" stroke="#141414" stroke-width="1.5"/>
<line x1="76" y1="929.63" x2="81" y2="929.63" stroke="#141414" stroke-width="1.5"/>
<text x="71.7" y="933.53" font-size="11.7" text-anchor="end" font-weight="normal" fill="#1c1c1c" textLength="13.35" lengthAdjust="spacingAndGlyphs" style="stroke-width:0.2px">10</text>
<line x1="78.4" y1="919.75" x2="81" y2="919.75" stroke="#141414" stroke-width="1.5"/>
<line x1="76" y1="909.86" x2="81" y2="909.86" stroke="#141414" stroke-width="1.5"/>
<text x="71.7" y="913.76" font-size="11.7" text-anchor="end" font-weight="normal" fill="#1c1c1c" textLength="13.35" lengthAdjust="spacingAndGlyphs" style="stroke-width:0.2px">20</text>
<line x1="78.4" y1="899.98" x2="81" y2="899.98" stroke="#141414" stroke-width="1.5"/>
<line x1="76" y1="890.09" x2="81" y2="890.09" stroke="#141414" stroke-width="1.5"/>
<text x="71.7" y="893.99" font-size="11.7" text-anchor="end" font-weight="normal" fill="#1c1c1c" textLength="13.35" lengthAdjust="spacingAndGlyphs" style="stroke-width:0.2px">30</text>
<line x1="78.4" y1="880.2" x2="81" y2="880.2" stroke="#141414" stroke-width="1.5"/>
<line x1="76" y1="870.32" x2="81" y2="870.32" stroke="#141414" stroke-width="1.5"/>
<text x="71.7" y="874.22" font-size="11.7" text-anchor="end" font-weight="normal" fill="#1c1c1c" textLength="13.35" lengthAdjust="spacingAndGlyphs" style="stroke-width:0.2px">40</text>
<line x1="78.4" y1="860.43" x2="81" y2="860.43" stroke="#141414" stroke-width="1.5"/>
<line x1="76" y1="850.55" x2="81" y2="850.55" stroke="#141414" stroke-width="1.5"/>
<text x="71.7" y="854.45" font-size="11.7" text-anchor="end" font-weight="normal" fill="#1c1c1c" textLength="13.35" lengthAdjust="spacingAndGlyphs" style="stroke-width:0.2px">50</text>
<line x1="78.4" y1="840.66" x2="81" y2="840.66" stroke="#141414" stroke-width="1.5"/>
<line x1="76" y1="830.78" x2="81" y2="830.78" stroke="#141414" stroke-width="1.5"/>
<text x="71.7" y="834.68" font-size="11.7" text-anchor="end" font-weight="normal" fill="#1c1c1c" textLength="13.35" lengthAdjust="spacingAndGlyphs" style="stroke-width:0.2px">60</text>
<line x1="78.4" y1="820.89" x2="81" y2="820.89" stroke="#141414" stroke-width="1.5"/>
<line x1="76" y1="811.01" x2="81" y2="811.01" stroke="#141414" stroke-width="1.5"/>
<text x="71.7" y="814.91" font-size="11.7" text-anchor="end" font-weight="normal" fill="#1c1c1c" textLength="13.35" lengthAdjust="spacingAndGlyphs" style="stroke-width:0.2px">70</text>
<line x1="78.4" y1="801.12" x2="81" y2="801.12" stroke="#141414" stroke-width="1.5"/>
<line x1="76" y1="791.24" x2="81" y2="791.24" stroke="#141414" stroke-width="1.5"/>
<text x="71.7" y="795.14" font-size="11.7" text-anchor="end" font-weight="normal" fill="#1c1c1c" textLength="13.35" lengthAdjust="spacingAndGlyphs" style="stroke-width:0.2px">80</text>
<line x1="78.4" y1="781.36" x2="81" y2="781.36" stroke="#141414" stroke-width="1.5"/>
<line x1="76" y1="771.47" x2="81" y2="771.47" stroke="#141414" stroke-width="1.5"/>
<text x="71.7" y="775.37" font-size="11.7" text-anchor="end" font-weight="normal" fill="#1c1c1c" textLength="13.35" lengthAdjust="spacingAndGlyphs" style="stroke-width:0.2px">90</text>
<line x1="78.4" y1="761.59" x2="81" y2="761.59" stroke="#141414" stroke-width="1.5"/>
<line x1="76" y1="751.7" x2="81" y2="751.7" stroke="#141414" stroke-width="1.5"/>
<text x="71.7" y="755.6" font-size="11.7" text-anchor="end" font-weight="normal" fill="#1c1c1c" textLength="20.02" lengthAdjust="spacingAndGlyphs" style="stroke-width:0.2px">100</text>
<line x1="466.8" y1="949.4" x2="470.2" y2="949.4" stroke="#141414" stroke-width="1.5"/>
<text x="476.2" y="953.5" font-size="11.31" text-anchor="start" font-weight="normal" fill="#1c1c1c" textLength="6.45" lengthAdjust="spacingAndGlyphs" style="stroke-width:0.2px">0</text>
<line x1="466.8" y1="929.63" x2="470.2" y2="929.63" stroke="#141414" stroke-width="1.5"/>
<text x="476.2" y="933.73" font-size="11.31" text-anchor="start" font-weight="normal" fill="#1c1c1c" textLength="6.45" lengthAdjust="spacingAndGlyphs" style="stroke-width:0.2px">5</text>
<line x1="466.8" y1="909.86" x2="470.2" y2="909.86" stroke="#141414" stroke-width="1.5"/>
<text x="476.2" y="913.96" font-size="11.31" text-anchor="start" font-weight="normal" fill="#1c1c1c" textLength="12.9" lengthAdjust="spacingAndGlyphs" style="stroke-width:0.2px">10</text>
<line x1="466.8" y1="890.09" x2="470.2" y2="890.09" stroke="#141414" stroke-width="1.5"/>
<text x="476.2" y="894.19" font-size="11.31" text-anchor="start" font-weight="normal" fill="#1c1c1c" textLength="12.9" lengthAdjust="spacingAndGlyphs" style="stroke-width:0.2px">15</text>
<line x1="466.8" y1="870.32" x2="470.2" y2="870.32" stroke="#141414" stroke-width="1.5"/>
<text x="476.2" y="874.42" font-size="11.31" text-anchor="start" font-weight="normal" fill="#1c1c1c" textLength="12.9" lengthAdjust="spacingAndGlyphs" style="stroke-width:0.2px">20</text>
<line x1="466.8" y1="850.55" x2="470.2" y2="850.55" stroke="#141414" stroke-width="1.5"/>
<text x="476.2" y="854.65" font-size="11.31" text-anchor="start" font-weight="normal" fill="#1c1c1c" textLength="12.9" lengthAdjust="spacingAndGlyphs" style="stroke-width:0.2px">25</text>
<line x1="466.8" y1="830.78" x2="470.2" y2="830.78" stroke="#141414" stroke-width="1.5"/>
<text x="476.2" y="834.88" font-size="11.31" text-anchor="start" font-weight="normal" fill="#1c1c1c" textLength="12.9" lengthAdjust="spacingAndGlyphs" style="stroke-width:0.2px">30</text>
<line x1="466.8" y1="811.01" x2="470.2" y2="811.01" stroke="#141414" stroke-width="1.5"/>
<text x="476.2" y="815.11" font-size="11.31" text-anchor="start" font-weight="normal" fill="#1c1c1c" textLength="12.9" lengthAdjust="spacingAndGlyphs" style="stroke-width:0.2px">35</text>
<line x1="466.8" y1="791.24" x2="470.2" y2="791.24" stroke="#141414" stroke-width="1.5"/>
<text x="476.2" y="795.34" font-size="11.31" text-anchor="start" font-weight="normal" fill="#1c1c1c" textLength="12.9" lengthAdjust="spacingAndGlyphs" style="stroke-width:0.2px">40</text>
<line x1="466.8" y1="771.47" x2="470.2" y2="771.47" stroke="#141414" stroke-width="1.5"/>
<text x="476.2" y="775.57" font-size="11.31" text-anchor="start" font-weight="normal" fill="#1c1c1c" textLength="12.9" lengthAdjust="spacingAndGlyphs" style="stroke-width:0.2px">45</text>
<line x1="466.8" y1="751.7" x2="470.2" y2="751.7" stroke="#141414" stroke-width="1.5"/>
<text x="476.2" y="755.8" font-size="11.31" text-anchor="start" font-weight="normal" fill="#1c1c1c" textLength="12.9" lengthAdjust="spacingAndGlyphs" style="stroke-width:0.2px">50</text>
<line x1="81" y1="949.4" x2="81" y2="953.6" stroke="#141414" stroke-width="1.5"/>
<text x="81" y="970" font-size="11.7" text-anchor="middle" font-weight="normal" fill="#1c1c1c" textLength="6.67" lengthAdjust="spacingAndGlyphs" style="stroke-width:0.2px">0</text>
<line x1="87.77" y1="949.4" x2="87.77" y2="951.8" stroke="#141414" stroke-width="1.5"/>
<line x1="94.53" y1="949.4" x2="94.53" y2="951.8" stroke="#141414" stroke-width="1.5"/>
<line x1="101.3" y1="949.4" x2="101.3" y2="953.6" stroke="#141414" stroke-width="1.5"/>
<text x="101.3" y="970" font-size="11.7" text-anchor="middle" font-weight="normal" fill="#1c1c1c" textLength="6.67" lengthAdjust="spacingAndGlyphs" style="stroke-width:0.2px">5</text>
<line x1="108.07" y1="949.4" x2="108.07" y2="951.8" stroke="#141414" stroke-width="1.5"/>
<line x1="114.83" y1="949.4" x2="114.83" y2="951.8" stroke="#141414" stroke-width="1.5"/>
<line x1="121.6" y1="949.4" x2="121.6" y2="953.6" stroke="#141414" stroke-width="1.5"/>
<text x="121.6" y="970" font-size="11.7" text-anchor="middle" font-weight="normal" fill="#1c1c1c" textLength="13.35" lengthAdjust="spacingAndGlyphs" style="stroke-width:0.2px">10</text>
<line x1="128.37" y1="949.4" x2="128.37" y2="951.8" stroke="#141414" stroke-width="1.5"/>
<line x1="135.13" y1="949.4" x2="135.13" y2="951.8" stroke="#141414" stroke-width="1.5"/>
<line x1="141.9" y1="949.4" x2="141.9" y2="953.6" stroke="#141414" stroke-width="1.5"/>
<text x="141.9" y="970" font-size="11.7" text-anchor="middle" font-weight="normal" fill="#1c1c1c" textLength="13.35" lengthAdjust="spacingAndGlyphs" style="stroke-width:0.2px">15</text>
<line x1="148.67" y1="949.4" x2="148.67" y2="951.8" stroke="#141414" stroke-width="1.5"/>
<line x1="155.43" y1="949.4" x2="155.43" y2="951.8" stroke="#141414" stroke-width="1.5"/>
<line x1="162.2" y1="949.4" x2="162.2" y2="953.6" stroke="#141414" stroke-width="1.5"/>
<text x="162.2" y="970" font-size="11.7" text-anchor="middle" font-weight="normal" fill="#1c1c1c" textLength="13.35" lengthAdjust="spacingAndGlyphs" style="stroke-width:0.2px">20</text>
<line x1="168.97" y1="949.4" x2="168.97" y2="951.8" stroke="#141414" stroke-width="1.5"/>
<line x1="175.73" y1="949.4" x2="175.73" y2="951.8" stroke="#141414" stroke-width="1.5"/>
<line x1="182.5" y1="949.4" x2="182.5" y2="953.6" stroke="#141414" stroke-width="1.5"/>
<text x="182.5" y="970" font-size="11.7" text-anchor="middle" font-weight="normal" fill="#1c1c1c" textLength="13.35" lengthAdjust="spacingAndGlyphs" style="stroke-width:0.2px">25</text>
<line x1="189.27" y1="949.4" x2="189.27" y2="951.8" stroke="#141414" stroke-width="1.5"/>
<line x1="196.03" y1="949.4" x2="196.03" y2="951.8" stroke="#141414" stroke-width="1.5"/>
<line x1="202.8" y1="949.4" x2="202.8" y2="953.6" stroke="#141414" stroke-width="1.5"/>
<text x="202.8" y="970" font-size="11.7" text-anchor="middle" font-weight="normal" fill="#1c1c1c" textLength="13.35" lengthAdjust="spacingAndGlyphs" style="stroke-width:0.2px">30</text>
<line x1="209.57" y1="949.4" x2="209.57" y2="951.8" stroke="#141414" stroke-width="1.5"/>
<line x1="216.33" y1="949.4" x2="216.33" y2="951.8" stroke="#141414" stroke-width="1.5"/>
<line x1="223.1" y1="949.4" x2="223.1" y2="953.6" stroke="#141414" stroke-width="1.5"/>
<text x="223.1" y="970" font-size="11.7" text-anchor="middle" font-weight="normal" fill="#1c1c1c" textLength="13.35" lengthAdjust="spacingAndGlyphs" style="stroke-width:0.2px">35</text>
<line x1="229.87" y1="949.4" x2="229.87" y2="951.8" stroke="#141414" stroke-width="1.5"/>
<line x1="236.63" y1="949.4" x2="236.63" y2="951.8" stroke="#141414" stroke-width="1.5"/>
<line x1="243.4" y1="949.4" x2="243.4" y2="953.6" stroke="#141414" stroke-width="1.5"/>
<text x="243.4" y="970" font-size="11.7" text-anchor="middle" font-weight="normal" fill="#1c1c1c" textLength="13.35" lengthAdjust="spacingAndGlyphs" style="stroke-width:0.2px">40</text>
<line x1="250.17" y1="949.4" x2="250.17" y2="951.8" stroke="#141414" stroke-width="1.5"/>
<line x1="256.93" y1="949.4" x2="256.93" y2="951.8" stroke="#141414" stroke-width="1.5"/>
<line x1="263.7" y1="949.4" x2="263.7" y2="953.6" stroke="#141414" stroke-width="1.5"/>
<text x="263.7" y="970" font-size="11.7" text-anchor="middle" font-weight="normal" fill="#1c1c1c" textLength="13.35" lengthAdjust="spacingAndGlyphs" style="stroke-width:0.2px">45</text>
<line x1="270.47" y1="949.4" x2="270.47" y2="951.8" stroke="#141414" stroke-width="1.5"/>
<line x1="277.23" y1="949.4" x2="277.23" y2="951.8" stroke="#141414" stroke-width="1.5"/>
<line x1="284" y1="949.4" x2="284" y2="953.6" stroke="#141414" stroke-width="1.5"/>
<text x="284" y="970" font-size="11.7" text-anchor="middle" font-weight="normal" fill="#1c1c1c" textLength="13.35" lengthAdjust="spacingAndGlyphs" style="stroke-width:0.2px">50</text>
<line x1="290.77" y1="949.4" x2="290.77" y2="951.8" stroke="#141414" stroke-width="1.5"/>
<line x1="297.53" y1="949.4" x2="297.53" y2="951.8" stroke="#141414" stroke-width="1.5"/>
<line x1="304.3" y1="949.4" x2="304.3" y2="953.6" stroke="#141414" stroke-width="1.5"/>
<text x="304.3" y="970" font-size="11.7" text-anchor="middle" font-weight="normal" fill="#1c1c1c" textLength="13.35" lengthAdjust="spacingAndGlyphs" style="stroke-width:0.2px">55</text>
<line x1="311.07" y1="949.4" x2="311.07" y2="951.8" stroke="#141414" stroke-width="1.5"/>
<line x1="317.83" y1="949.4" x2="317.83" y2="951.8" stroke="#141414" stroke-width="1.5"/>
<line x1="324.6" y1="949.4" x2="324.6" y2="953.6" stroke="#141414" stroke-width="1.5"/>
<text x="324.6" y="970" font-size="11.7" text-anchor="middle" font-weight="normal" fill="#1c1c1c" textLength="13.35" lengthAdjust="spacingAndGlyphs" style="stroke-width:0.2px">60</text>
<line x1="331.37" y1="949.4" x2="331.37" y2="951.8" stroke="#141414" stroke-width="1.5"/>
<line x1="338.13" y1="949.4" x2="338.13" y2="951.8" stroke="#141414" stroke-width="1.5"/>
<line x1="344.9" y1="949.4" x2="344.9" y2="953.6" stroke="#141414" stroke-width="1.5"/>
<text x="344.9" y="970" font-size="11.7" text-anchor="middle" font-weight="normal" fill="#1c1c1c" textLength="13.35" lengthAdjust="spacingAndGlyphs" style="stroke-width:0.2px">65</text>
<line x1="351.67" y1="949.4" x2="351.67" y2="951.8" stroke="#141414" stroke-width="1.5"/>
<line x1="358.43" y1="949.4" x2="358.43" y2="951.8" stroke="#141414" stroke-width="1.5"/>
<line x1="365.2" y1="949.4" x2="365.2" y2="953.6" stroke="#141414" stroke-width="1.5"/>
<text x="365.2" y="970" font-size="11.7" text-anchor="middle" font-weight="normal" fill="#1c1c1c" textLength="13.35" lengthAdjust="spacingAndGlyphs" style="stroke-width:0.2px">70</text>
<line x1="371.97" y1="949.4" x2="371.97" y2="951.8" stroke="#141414" stroke-width="1.5"/>
<line x1="378.73" y1="949.4" x2="378.73" y2="951.8" stroke="#141414" stroke-width="1.5"/>
<line x1="385.5" y1="949.4" x2="385.5" y2="953.6" stroke="#141414" stroke-width="1.5"/>
<text x="385.5" y="970" font-size="11.7" text-anchor="middle" font-weight="normal" fill="#1c1c1c" textLength="13.35" lengthAdjust="spacingAndGlyphs" style="stroke-width:0.2px">75</text>
<line x1="392.27" y1="949.4" x2="392.27" y2="951.8" stroke="#141414" stroke-width="1.5"/>
<line x1="399.03" y1="949.4" x2="399.03" y2="951.8" stroke="#141414" stroke-width="1.5"/>
<line x1="405.8" y1="949.4" x2="405.8" y2="953.6" stroke="#141414" stroke-width="1.5"/>
<text x="405.8" y="970" font-size="11.7" text-anchor="middle" font-weight="normal" fill="#1c1c1c" textLength="13.35" lengthAdjust="spacingAndGlyphs" style="stroke-width:0.2px">80</text>
<line x1="412.57" y1="949.4" x2="412.57" y2="951.8" stroke="#141414" stroke-width="1.5"/>
<line x1="419.33" y1="949.4" x2="419.33" y2="951.8" stroke="#141414" stroke-width="1.5"/>
<line x1="426.1" y1="949.4" x2="426.1" y2="953.6" stroke="#141414" stroke-width="1.5"/>
<text x="426.1" y="970" font-size="11.7" text-anchor="middle" font-weight="normal" fill="#1c1c1c" textLength="13.35" lengthAdjust="spacingAndGlyphs" style="stroke-width:0.2px">85</text>
<line x1="432.87" y1="949.4" x2="432.87" y2="951.8" stroke="#141414" stroke-width="1.5"/>
<line x1="439.63" y1="949.4" x2="439.63" y2="951.8" stroke="#141414" stroke-width="1.5"/>
<line x1="446.4" y1="949.4" x2="446.4" y2="953.6" stroke="#141414" stroke-width="1.5"/>
<text x="446.4" y="970" font-size="11.7" text-anchor="middle" font-weight="normal" fill="#1c1c1c" textLength="13.35" lengthAdjust="spacingAndGlyphs" style="stroke-width:0.2px">90</text>
<line x1="453.17" y1="949.4" x2="453.17" y2="951.8" stroke="#141414" stroke-width="1.5"/>
<line x1="459.93" y1="949.4" x2="459.93" y2="951.8" stroke="#141414" stroke-width="1.5"/>
<line x1="466.7" y1="949.4" x2="466.7" y2="953.6" stroke="#141414" stroke-width="1.5"/>
<text x="466.7" y="970" font-size="11.7" text-anchor="middle" font-weight="normal" fill="#1c1c1c" textLength="13.35" lengthAdjust="spacingAndGlyphs" style="stroke-width:0.2px">95</text>
<text transform="translate(44.7,849) rotate(-90)" x="0" y="0" font-size="15" text-anchor="middle" fill="#1c1c1c" style="stroke-width:0.45px" textLength="132.5" lengthAdjust="spacingAndGlyphs">JAK 2 allele burden (%)</text>
<text transform="translate(506.7,843.8) rotate(-90)" x="0" y="0" font-size="14.8" text-anchor="middle" fill="#1c1c1c" style="stroke-width:0.45px" textLength="172.9" lengthAdjust="spacingAndGlyphs">abnormal metaphases, CG (%)</text>
<text x="200.8" y="988.9" font-size="14.2" text-anchor="start" font-weight="normal" fill="#1c1c1c" textLength="146.7" lengthAdjust="spacingAndGlyphs" style="stroke-width:0.45px">Time on therapy (months)</text>
<polyline points="80.3,850.55 85.4,850.55 92.7,850.55 102.3,929.63 153.4,949.4 173.5,949.4 202.3,929.63 216.2,909.86 240.8,929.63 251.5,949.4 275.6,929.63 373.1,949.4 422.5,949.4" fill="none" stroke="#8a8a8a" stroke-width="1.9" stroke-linejoin="round" stroke-dasharray="5.2 4"/>
<polygon points="80.3,843.95 86.9,850.55 80.3,857.15 73.7,850.55" fill="none" stroke="#858585" stroke-width="1.9"/>
<polygon points="85.4,843.95 92,850.55 85.4,857.15 78.8,850.55" fill="none" stroke="#858585" stroke-width="1.9"/>
<polygon points="92.7,843.95 99.3,850.55 92.7,857.15 86.1,850.55" fill="none" stroke="#858585" stroke-width="1.9"/>
<polygon points="102.3,923.03 108.9,929.63 102.3,936.23 95.7,929.63" fill="none" stroke="#858585" stroke-width="1.9"/>
<polygon points="153.4,942.8 160,949.4 153.4,956 146.8,949.4" fill="none" stroke="#858585" stroke-width="1.9"/>
<polygon points="173.5,942.8 180.1,949.4 173.5,956 166.9,949.4" fill="none" stroke="#858585" stroke-width="1.9"/>
<polygon points="202.3,923.03 208.9,929.63 202.3,936.23 195.7,929.63" fill="none" stroke="#858585" stroke-width="1.9"/>
<polygon points="216.2,903.26 222.8,909.86 216.2,916.46 209.6,909.86" fill="none" stroke="#858585" stroke-width="1.9"/>
<polygon points="240.8,923.03 247.4,929.63 240.8,936.23 234.2,929.63" fill="none" stroke="#858585" stroke-width="1.9"/>
<polygon points="251.5,942.8 258.1,949.4 251.5,956 244.9,949.4" fill="none" stroke="#858585" stroke-width="1.9"/>
<polygon points="275.6,923.03 282.2,929.63 275.6,936.23 269,929.63" fill="none" stroke="#858585" stroke-width="1.9"/>
<polygon points="373.1,942.8 379.7,949.4 373.1,956 366.5,949.4" fill="none" stroke="#858585" stroke-width="1.9"/>
<polygon points="422.5,942.8 429.1,949.4 422.5,956 415.9,949.4" fill="#9a9a9a" stroke="#858585" stroke-width="1.9"/>
<line x1="81" y1="748" x2="81" y2="953.6" stroke="#141414" stroke-width="1.8"/>
<polyline points="82.2,762 86.8,760.8 90.8,808.1 94.2,782.7 98.1,831.9 101.7,805.8 106.5,823.8 110.8,817.3 122.1,803.8 134.7,827.2 146.9,817.3 154.3,846.2 166.5,871.5 174.6,899.7 190.8,909.6 202.8,932 215.7,932.7 227.2,932 240.4,944.9 251.7,942.5 275.6,946.5 300.6,949.4 325.3,942.9 349.3,947.6 373.1,945.1 397.8,949.2 422.7,949.2" fill="none" stroke="#000" stroke-width="2" stroke-linejoin="round"/>
<circle cx="82.2" cy="762" r="4.3" fill="#000"/>
<circle cx="86.8" cy="760.8" r="4.3" fill="#000"/>
<circle cx="90.8" cy="808.1" r="4.3" fill="#000"/>
<circle cx="94.2" cy="782.7" r="4.3" fill="#000"/>
<circle cx="98.1" cy="831.9" r="4.3" fill="#000"/>
<circle cx="101.7" cy="805.8" r="4.3" fill="#000"/>
<circle cx="106.5" cy="823.8" r="4.3" fill="#000"/>
<circle cx="110.8" cy="817.3" r="4.3" fill="#000"/>
<circle cx="122.1" cy="803.8" r="4.3" fill="#000"/>
<circle cx="134.7" cy="827.2" r="4.3" fill="#000"/>
<circle cx="146.9" cy="817.3" r="4.3" fill="#000"/>
<circle cx="154.3" cy="846.2" r="4.3" fill="#000"/>
<circle cx="166.5" cy="871.5" r="4.3" fill="#000"/>
<circle cx="174.6" cy="899.7" r="4.3" fill="#000"/>
<circle cx="190.8" cy="909.6" r="4.3" fill="#000"/>
<circle cx="202.8" cy="932" r="4.3" fill="#000"/>
<circle cx="215.7" cy="932.7" r="4.3" fill="#000"/>
<circle cx="227.2" cy="932" r="4.3" fill="#000"/>
<circle cx="240.4" cy="944.9" r="4.3" fill="#000"/>
<circle cx="251.7" cy="942.5" r="4.3" fill="#000"/>
<circle cx="275.6" cy="946.5" r="4.3" fill="#000"/>
<circle cx="300.6" cy="949.4" r="4.3" fill="#000"/>
<circle cx="325.3" cy="942.9" r="4.3" fill="#000"/>
<circle cx="349.3" cy="947.6" r="4.3" fill="#000"/>
<circle cx="373.1" cy="945.1" r="4.3" fill="#000"/>
<circle cx="397.8" cy="949.2" r="4.3" fill="#000"/>
<circle cx="422.7" cy="949.2" r="4.3" fill="#000"/>
<text x="130.2" y="806.9" font-size="11.1" text-anchor="start" font-weight="normal" fill="#1c1c1c" textLength="133.5" lengthAdjust="spacingAndGlyphs">molecular response (JAK2)</text>
<text x="181.1" y="896.2" font-size="11.1" text-anchor="start" font-weight="normal" fill="#1c1c1c" textLength="104.3" lengthAdjust="spacingAndGlyphs">cytogenetic response</text>
</svg></body></html>
